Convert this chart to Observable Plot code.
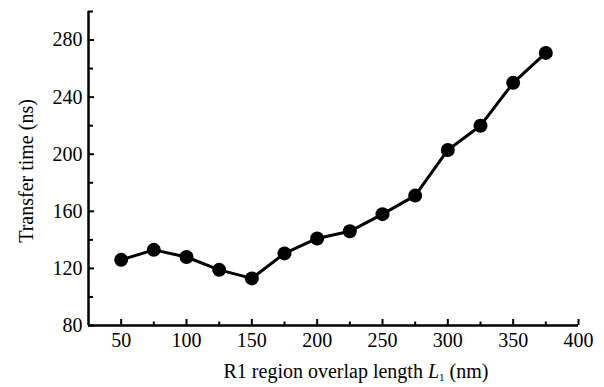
<!DOCTYPE html>
<html>
<head>
<meta charset="utf-8">
<script src="https://cdn.jsdelivr.net/npm/d3@7"></script>
<script src="https://cdn.jsdelivr.net/npm/@observablehq/plot@0.6"></script>
<style>
  html, body { margin: 0; padding: 0; background: #fff; }
  svg, svg text { font-family: "Liberation Serif", "Times New Roman", serif !important; }
</style>
</head>
<body>
<div id="chart"></div>
<script>
const overlapLength = [50, 75, 100, 125, 150, 175, 200, 225, 250, 275, 300, 325, 350, 375];
const transferTime = [126, 133, 128, 119, 113, 130.5, 141, 146, 158, 171, 203, 220, 250, 271];
const xTicks = [50, 100, 150, 200, 250, 300, 350, 400];
const xMinorTicks = [75, 125, 175, 225, 275, 325, 375];
const yTicks = [80, 120, 160, 200, 240, 280];
const yMinorTicks = [100, 140, 180, 220, 260, 300];
const xLabel = ["R1 region overlap length ", "L", "1", " (nm)"];
const yLabel = "Transfer time (ns)";

const data = overlapLength.map((x, i) => ({x, y: transferTime[i]}));
const serif = "Liberation Serif";

const plot = Plot.plot({
  width: 604,
  height: 387,
  marginLeft: 88,
  marginRight: 26,
  marginTop: 11,
  marginBottom: 62,
  style: {fontFamily: serif, fontSize: "20px", color: "black", background: "white"},
  x: {domain: [25, 400]},
  y: {domain: [80, 300]},
  marks: [
    Plot.axisX({ticks: xTicks, tickSize: 0, tickPadding: 7, label: null, fontFamily: serif, fontSize: 20, tickFormat: d => String(d)}),
    Plot.axisX({ticks: xTicks, tickSize: -6, text: null, label: null, strokeWidth: 2}),
    Plot.axisX({ticks: xMinorTicks, tickSize: -3.5, text: null, label: null, strokeWidth: 2}),
    Plot.axisY({ticks: yTicks, tickSize: 0, tickPadding: 6, label: null, fontFamily: serif, fontSize: 20, tickFormat: d => String(d)}),
    Plot.axisY({ticks: yTicks, tickSize: -6, text: null, label: null, strokeWidth: 2}),
    Plot.axisY({ticks: yMinorTicks, tickSize: -5, text: null, label: null, strokeWidth: 2}),
    Plot.ruleX([25], {strokeWidth: 2.5}),
    Plot.ruleY([80], {strokeWidth: 2.5}),
    Plot.line(data, {x: "x", y: "y", stroke: "black", strokeWidth: 3}),
    Plot.dot(data, {x: "x", y: "y", r: 7, fill: "black", stroke: "none"})
  ]
});

document.getElementById("chart").appendChild(plot);

const svg = d3.select(plot);
svg.style("font-family", serif);
const xt = svg.append("text")
  .attr("x", 356).attr("y", 378)
  .attr("text-anchor", "middle")
  .attr("font-family", serif)
  .attr("font-size", 20)
  .attr("fill", "black");
xt.append("tspan").text(xLabel[0]);
xt.append("tspan").attr("font-style", "italic").text(xLabel[1]);
xt.append("tspan").attr("font-size", 11).attr("dy", 3).text(xLabel[2]);
xt.append("tspan").attr("dy", -3).text(xLabel[3]);

svg.append("text")
  .attr("transform", "translate(33,171) rotate(-90)")
  .attr("text-anchor", "middle")
  .attr("font-family", serif)
  .attr("font-size", 20)
  .attr("fill", "black")
  .text(yLabel);
svg.selectAll("text").attr("font-family", serif);
</script>
</body>
</html>
